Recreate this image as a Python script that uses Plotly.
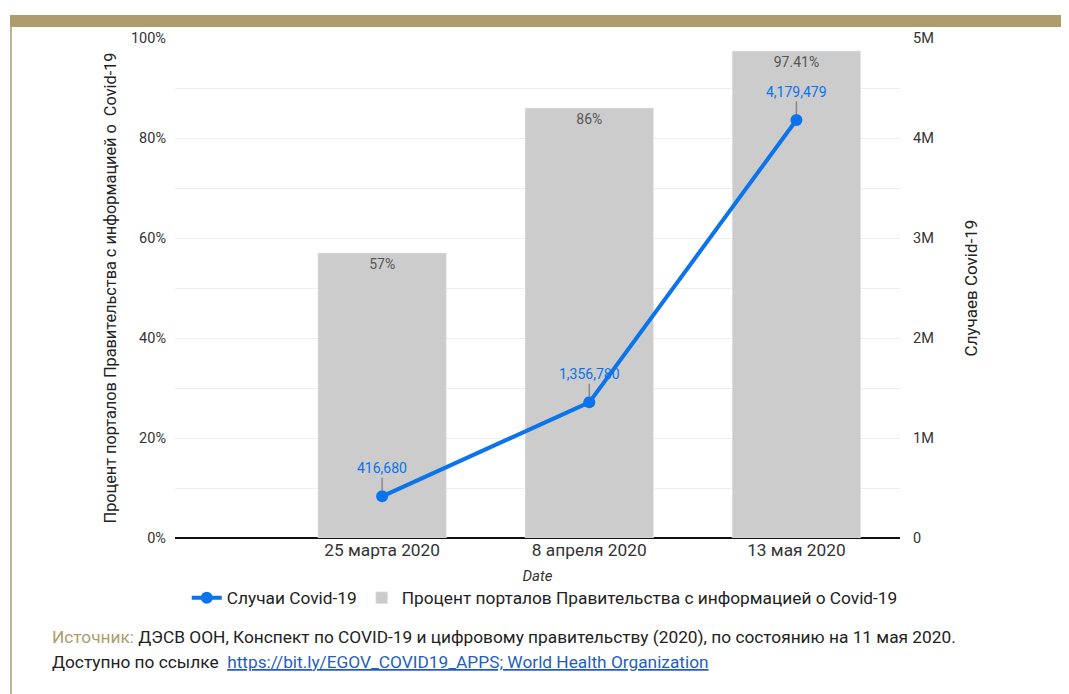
import plotly.graph_objects as go

dates = ["25 марта 2020", "8 апреля 2020", "13 мая 2020"]
portal_share = [0.57, 0.86, 0.9741]
cases = [416680, 1356780, 4179479]

bar_name = "Процент порталов Правительства с информацией о Covid-19"
line_name = "Случаи Covid-19"

ROBOTO = "Roboto, Arial, sans-serif"
GOLD = "#ad9c6c"
BLUE = "#0b73ec"

fig = go.Figure()
fig.add_trace(go.Bar(
    x=dates, y=portal_share, name=bar_name, marker_color="#cccccc",
    width=0.62, text=[f"{v*100:g}%" for v in portal_share],
    textposition="inside", insidetextanchor="end",
    textfont=dict(family=ROBOTO, size=14, color="#555555"),
    yaxis="y",
))
fig.add_trace(go.Scatter(
    x=dates, y=cases, name=line_name, mode="lines+markers",
    line=dict(color=BLUE, width=4), marker=dict(size=12, color=BLUE),
    yaxis="y2",
))

for d, c in zip(dates, cases):
    fig.add_annotation(
        x=d, y=c, xref="x", yref="y2", text=f"{c:,}",
        showarrow=True, arrowhead=0, arrowwidth=1.5, arrowcolor="#888888",
        ax=0, ay=-28, standoff=6,
        font=dict(family=ROBOTO, size=14, color=BLUE),
    )

# source text
fig.add_annotation(
    xref="paper", yref="paper", x=-0.172, y=-0.198, xanchor="left", yanchor="middle",
    align="left", showarrow=False,
    font=dict(family=ROBOTO, size=17.3, color="#222222"),
    text=(f"<span style='color:{GOLD}'>Источник:</span> ДЭСВ ООН, Конспект по COVID-19 и цифровому правительству (2020), по состоянию на 11 мая 2020."),
)
fig.add_annotation(
    xref="paper", yref="paper", x=-0.172, y=-0.248, xanchor="left", yanchor="middle",
    align="left", showarrow=False,
    font=dict(family=ROBOTO, size=17.3, color="#222222"),
    text="Доступно по ссылке  <span style='color:#1f5fbf;text-decoration:underline'>https://bit.ly/EGOV_COVID19_APPS; World Health Organization</span>",
)

# frame decoration
fig.add_shape(type="rect", xref="paper", yref="paper", x0=-0.2276, x1=1.26, y0=1.022, y1=1.046,
              fillcolor=GOLD, line_width=0, layer="above")
fig.add_shape(type="line", xref="paper", yref="paper", x0=-0.2262, x1=-0.2262, y0=1.03, y1=-0.35,
              line=dict(color=GOLD, width=1.5))

fig.update_layout(
    width=1069, height=694,
    margin=dict(l=167, r=177, t=30, b=164),
    plot_bgcolor="white", paper_bgcolor="white",
    showlegend=True,
    legend=dict(orientation="h", x=0.51, xanchor="center", y=-0.12, yanchor="middle",
                font=dict(family=ROBOTO, size=17.3, color="#222222"), traceorder="reversed"),
    xaxis=dict(type="category", range=[-1, 2.5], showgrid=False,
               tickfont=dict(family=ROBOTO, size=17.3, color="#333333"),
               ticks="", showline=False,
               title=dict(text="<i>Date</i>", font=dict(family=ROBOTO, size=15, color="#333333"), standoff=11)),
    yaxis=dict(range=[0, 1], dtick=0.2, tickformat=".0%", showgrid=True, gridcolor="#eeeeee",
               minor=dict(dtick=0.1, showgrid=True, gridcolor="#eeeeee"),
               zeroline=True, zerolinecolor="#111111", zerolinewidth=2,
               tickfont=dict(family=ROBOTO, size=14.5, color="#333333"), ticklabelstandoff=8,
               title=dict(text="Процент порталов Правительства с информацией о  Covid-19",
                          font=dict(family=ROBOTO, size=16.3, color="#222222"), standoff=10)),
    yaxis2=dict(overlaying="y", side="right", range=[0, 5e6], dtick=1e6, tickformat="~s",
                showgrid=False, zeroline=False,
                tickfont=dict(family=ROBOTO, size=14.5, color="#333333"), ticklabelstandoff=12,
                title=dict(text="Случаев Covid-19", font=dict(family=ROBOTO, size=17, color="#222222"), standoff=32)),
)

fig.write_html("out.html")
